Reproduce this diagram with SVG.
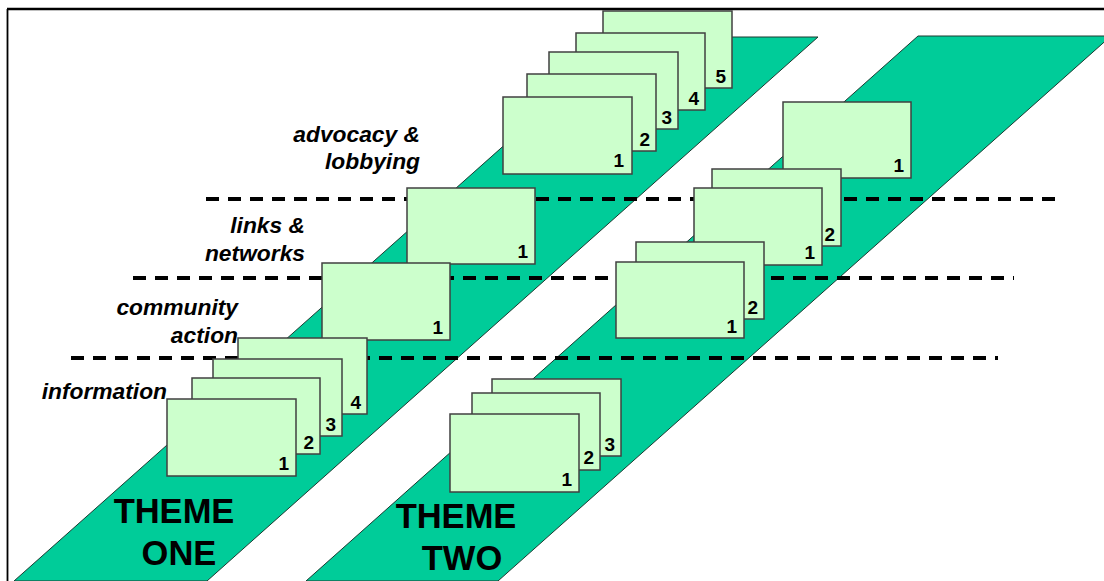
<svg xmlns="http://www.w3.org/2000/svg" width="1104" height="581" viewBox="0 0 1104 581">
<style>
.band{fill:#00CC99;stroke:#1a3a30;stroke-width:1}
.card{fill:#CCFFCC;stroke:#404040;stroke-width:1.5}
.num{font-family:"Liberation Sans",Arial,sans-serif;font-weight:bold;font-size:19px;fill:#000;text-anchor:end}
.lbl{font-family:"Liberation Sans",Arial,sans-serif;font-weight:bold;font-style:italic;font-size:22.8px;fill:#000;text-anchor:end}
.theme{font-family:"Liberation Sans",Arial,sans-serif;font-weight:bold;font-size:34.5px;fill:#000;text-anchor:middle}
.dash{stroke:#000;stroke-width:4;stroke-dasharray:13 9;fill:none}
</style>
<rect x="0" y="0" width="1104" height="581" fill="#fff"/>
<g id="frame">
<line x1="7" y1="9" x2="1104" y2="9" stroke="#000" stroke-width="2.5"/>
<line x1="7.5" y1="9" x2="7.5" y2="581" stroke="#000" stroke-width="1.8"/>
</g>
<g id="bands">
<polygon class="band" points="626,37 818,37 207,581 14,581"/>
<polygon class="band" points="918,36 1111,36 498,581 306,581"/>
</g>
<g id="connectors">
<line class="dash" x1="206" y1="199" x2="1056" y2="199"/>
<line class="dash" x1="133" y1="278" x2="1014" y2="278"/>
<line class="dash" x1="71" y1="358" x2="998" y2="358"/>
</g>
<g id="labels">
<text class="lbl" x="420" y="142">advocacy &amp;</text>
<text class="lbl" x="420" y="169">lobbying</text>
<text class="lbl" x="305" y="233">links &amp;</text>
<text class="lbl" x="305" y="261">networks</text>
<text class="lbl" x="238" y="315">community</text>
<text class="lbl" x="238" y="343">action</text>
<text class="lbl" x="167" y="399">information</text>
</g>
<g id="theme-one">
<text class="theme" x="174" y="523">THEME</text>
<text class="theme" x="179" y="565">ONE</text>
</g>
<g id="theme-two">
<text class="theme" x="456" y="528">THEME</text>
<text class="theme" x="462" y="570">TWO</text>
</g>
<g id="t1-advocacy">
<rect class="card" x="603" y="11" width="129" height="77"/><text class="num" x="726" y="83">5</text>
<rect class="card" x="576" y="33" width="129" height="77"/><text class="num" x="699" y="105">4</text>
<rect class="card" x="549" y="52" width="129" height="77"/><text class="num" x="672" y="124">3</text>
<rect class="card" x="527" y="74" width="129" height="77"/><text class="num" x="650" y="146">2</text>
<rect class="card" x="503" y="97" width="129" height="77"/><text class="num" x="624" y="167">1</text>
</g>
<g id="t1-links">
<rect class="card" x="407" y="188" width="128" height="76"/><text class="num" x="528" y="258">1</text>
</g>
<g id="t1-community">
<rect class="card" x="322" y="263" width="128" height="77"/><text class="num" x="443" y="334">1</text>
</g>
<g id="t1-information">
<rect class="card" x="238" y="338" width="129" height="76"/><text class="num" x="361" y="409">4</text>
<rect class="card" x="213" y="359" width="129" height="77"/><text class="num" x="336" y="431">3</text>
<rect class="card" x="192" y="378" width="128" height="76"/><text class="num" x="314" y="449">2</text>
<rect class="card" x="167" y="399" width="129" height="77"/><text class="num" x="289" y="470">1</text>
</g>
<g id="t2-advocacy">
<rect class="card" x="783" y="102" width="128" height="76"/><text class="num" x="904" y="172">1</text>
</g>
<g id="t2-links">
<rect class="card" x="712" y="169" width="129" height="77"/><text class="num" x="835" y="241">2</text>
<rect class="card" x="694" y="188" width="128" height="77"/><text class="num" x="815" y="259">1</text>
</g>
<g id="t2-community">
<rect class="card" x="636" y="242" width="128" height="77"/><text class="num" x="758" y="314">2</text>
<rect class="card" x="616" y="262" width="128" height="76"/><text class="num" x="737" y="333">1</text>
</g>
<g id="t2-information">
<rect class="card" x="492" y="379" width="129" height="77"/><text class="num" x="615" y="451">3</text>
<rect class="card" x="472" y="393" width="128" height="77"/><text class="num" x="594" y="464">2</text>
<rect class="card" x="450" y="414" width="129" height="78"/><text class="num" x="572" y="486">1</text>
</g>
</svg>
